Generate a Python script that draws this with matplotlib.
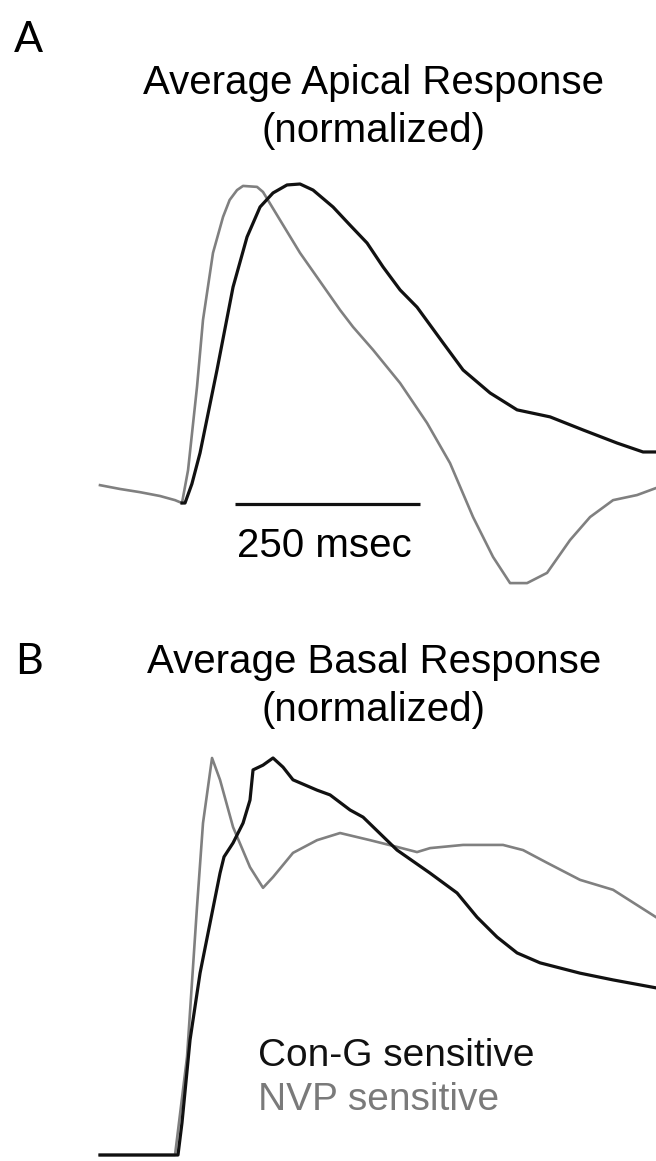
import matplotlib
matplotlib.use("Agg")
import matplotlib.pyplot as plt
import numpy as np

# ---------------- data (time in ms from onset, normalized response) ----------------
# Panel A: apical
apical_gray_t = [-112.2, -85.1, -58.1, -31.1, -10.8, -1.4, 6.8, 18.9, 27.0, 40.5, 54.1, 63.0, 73.0, 81.1,
                 100.0, 108.1, 131.1, 158.1, 181.1, 212.2, 229.7, 256.8, 293.3, 329.7, 360.8, 391.9,
                 418.9, 441.9, 464.9, 491.9, 523.0, 550.0, 581.1, 613.5, 639.2]
apical_gray_v = [0.056, 0.044, 0.034, 0.022, 0.009, 0.0, 0.103, 0.364, 0.574, 0.784, 0.897, 0.950, 0.981, 0.994,
                 0.991, 0.975, 0.887, 0.784, 0.708, 0.605, 0.552, 0.480, 0.376, 0.251, 0.125, -0.044,
                 -0.169, -0.251, -0.251, -0.219, -0.116, -0.044, 0.009, 0.025, 0.047]
apical_black_t = [-1.4, 2.7, 12.0, 23.0, 45.9, 67.6, 86.5, 104.1, 121.6,
                  140.5, 158.1, 175.7, 202.7, 225.7, 248.7, 270.3, 293.3, 316.2, 351.4, 378.4, 414.9,
                  451.4, 496.0, 540.6, 586.5, 621.6, 639.2]
apical_black_v = [0.0, 0.0, 0.060, 0.157, 0.417, 0.677, 0.834, 0.928, 0.972,
                  0.997, 1.0, 0.981, 0.928, 0.871, 0.815, 0.740, 0.668, 0.614, 0.502, 0.417, 0.345,
                  0.292, 0.270, 0.229, 0.188, 0.160, 0.160]

# Panel B: basal
basal_gray_t = [-112.2, -10.8, 5.4, 18.9, 27.0, 39.2, 50.0, 67.6, 90.5, 108.1, 121.6, 148.6, 181.1,
                212.2, 252.7, 289.2, 316.2, 333.8, 378.4, 432.4, 459.5, 491.9, 536.5, 581.1, 639.2]
basal_gray_v = [0.0, 0.0, 0.247, 0.625, 0.836, 1.0, 0.945, 0.826, 0.725, 0.673, 0.700, 0.761, 0.793,
                0.811, 0.793, 0.776, 0.763, 0.773, 0.781, 0.781, 0.768, 0.736, 0.693, 0.668, 0.599]
basal_black_t = [-112.2, -6.8, -1.4, 9.5, 23.0, 36.5, 50.0, 55.4, 67.6, 81.1, 90.5, 94.6, 108.1, 121.6,
                 135.1, 148.6, 181.1, 198.7, 225.7, 243.3, 289.2, 333.8, 370.3, 397.3, 424.3, 451.4,
                 482.4, 536.5, 581.1, 639.2]
basal_black_v = [0.0, 0.0, 0.081, 0.290, 0.458, 0.584, 0.710, 0.751, 0.786, 0.836, 0.894, 0.970, 0.982,
                 1.0, 0.977, 0.945, 0.919, 0.907, 0.869, 0.851, 0.768, 0.710, 0.660, 0.599, 0.549, 0.509,
                 0.484, 0.458, 0.441, 0.421]

scale_bar_ms = 250
scale_bar_start = 70
panel_labels = ["A", "B"]
titles = [["Average Apical Response", "(normalized)"], ["Average Basal Response", "(normalized)"]]
legend_labels = ["Con-G sensitive", "NVP sensitive"]

BLACK = "#111111"
GRAY = "#808080"

W, H = 656, 1161
fig = plt.figure(figsize=(W / 100, H / 100), dpi=100)


def fy(py):
    return 1 - py / H


def make_axes(top_px, bottom_px, ylim):
    ax = fig.add_axes([0, fy(bottom_px), 1, (bottom_px - top_px) / H])
    ax.set_xlim(-247.3, 639.1)
    ax.set_ylim(*ylim)
    ax.axis("off")
    return ax


axA = make_axes(150, 600, (-0.304, 1.1066))
axA.plot(apical_gray_t, apical_gray_v, color=GRAY, lw=1.9, solid_joinstyle="round", zorder=2)
axA.plot(apical_black_t, apical_black_v, color=BLACK, lw=2.3, solid_joinstyle="round", zorder=3)
axA.plot([scale_bar_start, scale_bar_start + scale_bar_ms], [-0.003, -0.003], color=BLACK, lw=2.3,
         solid_capstyle="butt")

axB = make_axes(740, 1161, (-0.0151, 1.0453))
axB.plot(basal_gray_t, basal_gray_v, color=GRAY, lw=1.9, solid_joinstyle="round", zorder=2)
axB.plot(basal_black_t, basal_black_v, color=BLACK, lw=2.3, solid_joinstyle="round", zorder=3)

font_main = ["Liberation Sans", "DejaVu Sans"]
font_lab = ["Lato", "DejaVu Sans"]

# panel letters
fig.text(14 / W, fy(52), panel_labels[0], fontsize=31, family=font_lab, va="baseline", ha="left")
fig.text(15 / W, fy(674), panel_labels[1], fontsize=31, family=font_lab, va="baseline", ha="left")

# titles
for (l1, l2), b1 in zip(titles, [94, 673]):
    fig.text(374 / W, fy(b1), l1, fontsize=29, family=font_main, va="baseline", ha="center")
    fig.text(374 / W, fy(b1 + 48), l2, fontsize=29, family=font_main, va="baseline", ha="center")

# scale bar label
fig.text(237 / W, fy(557), f"{scale_bar_ms} msec", fontsize=29, family=font_main, va="baseline", ha="left")

# legend text
fig.text(258 / W, fy(1066), legend_labels[0], fontsize=28, family=font_main, va="baseline", ha="left",
         color=BLACK)
fig.text(258 / W, fy(1110), legend_labels[1], fontsize=28, family=font_main, va="baseline", ha="left",
         color="#7a7a7a")

fig.savefig("out.png", dpi=100)
